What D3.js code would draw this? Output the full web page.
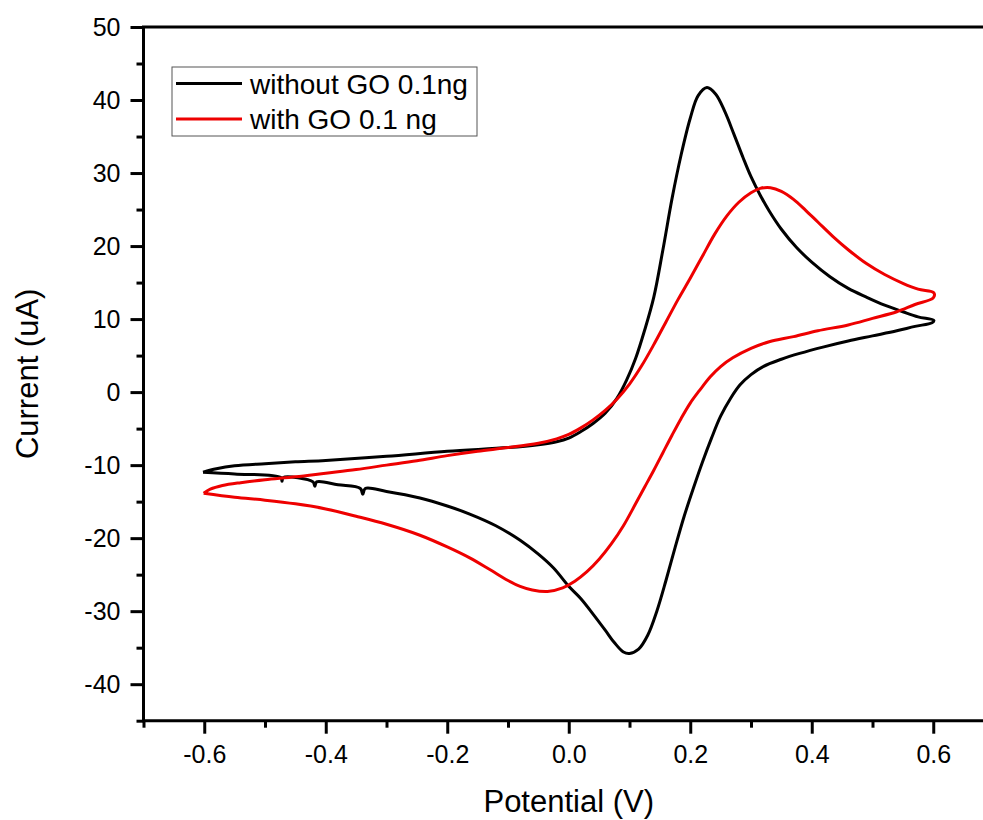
<!DOCTYPE html>
<html>
<head>
<meta charset="utf-8">
<script src="https://cdn.jsdelivr.net/npm/d3@7"></script>
<style>
  body { margin: 0; background: #fff; }
  svg { display: block; font-family: "Liberation Sans", Arial, sans-serif; }
</style>
</head>
<body>
<script>
// cyclic voltammograms (potential in V, current in uA)
// each loop: forward scan from -0.6 V up to +0.6 V, then the return scan
var noGoPotential = [-0.602,-0.58,-0.55,-0.5,-0.45,-0.4,-0.3,-0.2,-0.1,-0.05,-0.02,0.0,0.02,0.04,0.06,0.079,0.095,0.11,0.125,0.14,0.155,0.17,0.185,0.2,0.213,0.2275,0.242,0.257,0.272,0.287,0.3,0.315,0.33,0.35,0.375,0.4,0.43,0.46,0.49,0.52,0.55,0.575,0.601,
  0.598,0.57,0.54,0.5,0.46,0.42,0.38,0.35,0.32,0.3,0.282,0.266,0.25,0.235,0.22,0.205,0.19,0.175,0.16,0.145,0.13,0.115,0.1,0.09,0.075,0.06,0.04,0.02,0.0,-0.025,-0.05,-0.08,-0.12,-0.163,-0.2,-0.245,-0.3,-0.335,-0.339,-0.343,-0.38,-0.415,-0.418,-0.421,-0.47,-0.472,-0.474,-0.55,-0.602];
var noGoCurrent = [-10.97,-10.5,-10.1,-9.8,-9.55,-9.35,-8.8,-8.1,-7.6,-7.2,-6.8,-6.3,-5.4,-4.3,-2.9,-0.9,1.6,4.6,8.5,13.0,19.5,26.5,32.5,37.5,40.6,41.7,40.8,38.4,35.3,32.1,29.5,27.0,24.8,22.3,19.8,17.8,15.8,14.2,13.0,11.9,11.0,10.3,9.8,
  9.5,9.0,8.4,7.7,7.0,6.2,5.3,4.5,3.5,2.4,1.0,-0.9,-3.3,-6.3,-9.6,-13.2,-17.0,-21.3,-25.8,-30.0,-33.3,-35.2,-35.8,-35.6,-34.3,-32.6,-30.4,-28.3,-26.6,-24.1,-22.2,-20.3,-18.3,-16.7,-15.6,-14.5,-13.6,-13.2,-14.0,-13.2,-12.7,-12.3,-12.9,-12.3,-11.7,-12.2,-11.7,-11.2,-10.97];

var goPotential = [-0.601,-0.59,-0.57,-0.54,-0.5,-0.45,-0.4,-0.35,-0.3,-0.25,-0.2,-0.15,-0.1,-0.05,-0.02,0.0,0.02,0.04,0.06,0.08,0.1,0.12,0.14,0.16,0.18,0.2,0.22,0.24,0.26,0.28,0.3,0.315,0.332,0.35,0.37,0.39,0.41,0.435,0.46,0.49,0.52,0.55,0.575,0.601,
  0.6,0.57,0.54,0.5,0.46,0.41,0.37,0.33,0.3,0.27,0.25,0.233,0.215,0.2,0.185,0.17,0.155,0.14,0.125,0.11,0.09,0.07,0.05,0.03,0.01,-0.01,-0.035,-0.06,-0.08,-0.1,-0.13,-0.163,-0.2,-0.245,-0.3,-0.35,-0.4,-0.45,-0.5,-0.55,-0.601];
var goCurrent = [-13.85,-13.3,-12.8,-12.4,-12.0,-11.6,-11.1,-10.6,-10.0,-9.4,-8.7,-8.1,-7.6,-7.0,-6.4,-5.8,-4.9,-3.8,-2.5,-0.9,1.1,3.6,6.5,9.6,12.7,15.6,18.6,21.6,24.1,26.0,27.3,27.9,28.0,27.5,26.4,24.9,23.3,21.3,19.5,17.6,16.1,14.9,14.1,13.6,
  12.9,12.0,11.0,10.1,9.2,8.4,7.6,6.9,6.0,4.7,3.5,2.1,0.2,-1.5,-3.6,-5.9,-8.3,-10.7,-13.0,-15.3,-18.3,-20.8,-22.9,-24.6,-25.9,-26.8,-27.3,-27.1,-26.6,-25.8,-24.3,-22.7,-21.2,-19.6,-18.1,-17.0,-16.0,-15.3,-14.8,-14.4,-13.85];

var seriesNames = ["without GO 0.1ng", "with GO 0.1 ng"];
var seriesColors = ["#000000", "#ee0000"];

var xMajorTicks = [-0.6,-0.4,-0.2,0.0,0.2,0.4,0.6];
var xMinorTicks = [-0.7,-0.5,-0.3,-0.1,0.1,0.3,0.5];
var yMajorTicks = [-40,-30,-20,-10,0,10,20,30,40,50];
var yMinorTicks = [-45,-35,-25,-15,-5,5,15,25,35,45];

var width = 983, height = 820;

var svg = d3.select("body").append("svg")
    .attr("width", width)
    .attr("height", height);

var x = d3.scaleLinear().domain([-0.7, 0.7]).range([143.5, 994]);
var y = d3.scaleLinear().domain([-45, 50]).range([720.7, 27]);

// hyphen instead of the unicode minus d3 uses by default
var fmtX = function(d){ return d3.format(".1f")(d).replace("\u2212", "-"); };
var fmtY = function(d){ return String(d); };

// curves
var line = d3.line()
    .x(function(d){ return x(d[0]); })
    .y(function(d){ return y(d[1]); })
    .curve(d3.curveCatmullRom.alpha(0.5));

var series = [
  d3.zip(noGoPotential, noGoCurrent),
  d3.zip(goPotential, goCurrent)
];

svg.append("defs").append("clipPath").attr("id", "plotclip")
  .append("rect").attr("x", 143.5).attr("y", 27).attr("width", 850).attr("height", 694);

svg.selectAll(".cv")
    .data(series)
    .enter()
    .append("path")
    .attr("class", "cv")
    .attr("clip-path", "url(#plotclip)")
    .attr("d", line)
    .attr("fill", "none")
    .attr("stroke", function(d, i){ return seriesColors[i]; })
    .attr("stroke-width", 3)
    .attr("stroke-linejoin", "round");

// axes
function styleAxis(g){
  g.select(".domain").remove();
  g.selectAll(".tick line").attr("stroke", "#000").attr("stroke-width", 3);
  g.selectAll(".tick text").attr("fill", "#000").style("font-size", "25px");
}

svg.append("g")
    .attr("transform", "translate(0," + y(-45) + ")")
    .call(d3.axisBottom(x).tickValues(xMajorTicks).tickSize(13).tickPadding(12).tickFormat(fmtX))
    .call(styleAxis);

svg.append("g")
    .attr("transform", "translate(0," + y(-45) + ")")
    .call(d3.axisBottom(x).tickValues(xMinorTicks).tickSize(7).tickFormat(""))
    .call(styleAxis);

svg.append("g")
    .attr("transform", "translate(" + x(-0.7) + ",0)")
    .call(d3.axisLeft(y).tickValues(yMajorTicks).tickSize(13).tickPadding(10).tickFormat(fmtY))
    .call(styleAxis);

svg.append("g")
    .attr("transform", "translate(" + x(-0.7) + ",0)")
    .call(d3.axisLeft(y).tickValues(yMinorTicks).tickSize(7).tickFormat(""))
    .call(styleAxis);

// frame lines (right side falls outside the window)
svg.append("path")
    .attr("d", "M" + x(0.7) + "," + y(50) + "H" + x(-0.7) + "V" + y(-45) + "H" + x(0.7))
    .attr("fill", "none")
    .attr("stroke", "#000")
    .attr("stroke-width", 3)
    .attr("stroke-linecap", "square");

// axis titles
svg.append("text")
    .attr("x", (x(-0.7) + x(0.7)) / 2)
    .attr("y", 812)
    .attr("text-anchor", "middle")
    .style("font-size", "31px")
    .text("Potential (V)");

svg.append("text")
    .attr("transform", "translate(38," + (y(-45) + y(50)) / 2 + ") rotate(-90)")
    .attr("text-anchor", "middle")
    .style("font-size", "31px")
    .text("Current (uA)");

// legend
var legend = svg.append("g").attr("transform", "translate(172,67)");
legend.append("rect")
    .attr("width", 305).attr("height", 69)
    .attr("fill", "#fff")
    .attr("stroke", "#555")
    .attr("stroke-width", 1);

var items = legend.selectAll(".item")
    .data(seriesNames)
    .enter()
    .append("g")
    .attr("transform", function(d, i){ return "translate(0," + (16.5 + i * 35.5) + ")"; });

items.append("line")
    .attr("x1", 4).attr("x2", 70)
    .attr("stroke", function(d, i){ return seriesColors[i]; })
    .attr("stroke-width", 3);

items.append("text")
    .attr("x", 78)
    .attr("dy", "0.36em")
    .style("font-size", "28px")
    .text(function(d){ return d; });
</script>
</body>
</html>
